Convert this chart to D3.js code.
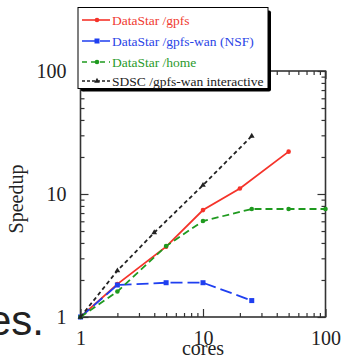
<!DOCTYPE html>
<html>
<head>
<meta charset="utf-8">
<script src="https://cdn.jsdelivr.net/npm/d3@7"></script>
<style>
  html, body { margin: 0; padding: 0; background: #fff; }
  svg { display: block; }
  text { font-family: "Liberation Serif", "DejaVu Serif", serif; }
</style>
</head>
<body>
<div id="chart"></div>
<script>
// series values (cores -> speedup)
const gpfsCores = [1, 2, 5, 10, 20, 50];
const gpfsSpeedup = [1, 1.85, 3.73, 7.4, 11.1, 22.1];

const wanCores = [1, 2, 5, 10, 25];
const wanSpeedup = [1, 1.82, 1.9, 1.9, 1.36];

const homeCores = [1, 2, 5, 10, 25, 50, 100];
const homeSpeedup = [1, 1.61, 3.77, 6.03, 7.55, 7.55, 7.55];

const sdscCores = [1, 2, 4, 10, 25];
const sdscSpeedup = [1, 2.38, 4.85, 11.8, 29.6];

const seriesNames = ['DataStar /gpfs', 'DataStar /gpfs-wan (NSF)', 'DataStar /home', 'SDSC /gpfs-wan interactive'];
const majorTicks = [1, 10, 100];
const minorTicks = [2, 3, 4, 5, 6, 7, 8, 9, 20, 30, 40, 50, 60, 70, 80, 90];

const width = 341, height = 358;
const plotLeft = 80.5, plotRight = 325.5, plotTop = 71, plotBottom = 317;

const svg = d3.select('#chart').append('svg')
  .attr('width', width)
  .attr('height', height);

const x = d3.scaleLog().domain([1, 100]).range([plotLeft, plotRight]);
const y = d3.scaleLog().domain([1, 100]).range([plotBottom, plotTop]);

// cropped text fragment from the page behind the chart
svg.append('text')
  .attr('x', 44).attr('y', 335)
  .attr('text-anchor', 'end')
  .style('font-family', '"Liberation Sans", Arial, sans-serif')
  .style('font-size', '42px')
  .attr('fill', '#222')
  .text('es.');

const axisColor = '#333';

function styleAxis(g) {
  g.select('.domain').remove();
  g.selectAll('.tick line').attr('stroke', axisColor).attr('stroke-width', 1.2);
  g.selectAll('text').style('font-size', '20px').attr('fill', '#222')
    .style('font-family', '"Liberation Serif", serif');
}

// bottom
svg.append('g').attr('transform', `translate(0,${plotBottom})`)
  .call(d3.axisBottom(x).tickValues(majorTicks).tickSize(-8).tickPadding(14).tickFormat(d3.format('d')))
  .call(styleAxis);
svg.append('g').attr('transform', `translate(0,${plotBottom})`)
  .call(d3.axisBottom(x).tickValues(minorTicks).tickSize(-4).tickFormat(''))
  .call(styleAxis);
// top
svg.append('g').attr('transform', `translate(0,${plotTop})`)
  .call(d3.axisTop(x).tickValues(majorTicks).tickSize(-8).tickFormat(''))
  .call(styleAxis);
svg.append('g').attr('transform', `translate(0,${plotTop})`)
  .call(d3.axisTop(x).tickValues(minorTicks).tickSize(-4).tickFormat(''))
  .call(styleAxis);
// left
svg.append('g').attr('transform', `translate(${plotLeft},0)`)
  .call(d3.axisLeft(y).tickValues(majorTicks).tickSize(-8).tickPadding(14).tickFormat(d3.format('d')))
  .call(styleAxis);
svg.append('g').attr('transform', `translate(${plotLeft},0)`)
  .call(d3.axisLeft(y).tickValues(minorTicks).tickSize(-4).tickFormat(''))
  .call(styleAxis);
// right
svg.append('g').attr('transform', `translate(${plotRight},0)`)
  .call(d3.axisRight(y).tickValues(majorTicks).tickSize(-8).tickFormat(''))
  .call(styleAxis);
svg.append('g').attr('transform', `translate(${plotRight},0)`)
  .call(d3.axisRight(y).tickValues(minorTicks).tickSize(-4).tickFormat(''))
  .call(styleAxis);

svg.append('rect')
  .attr('x', plotLeft).attr('y', plotTop)
  .attr('width', plotRight - plotLeft).attr('height', plotBottom - plotTop)
  .attr('fill', 'none').attr('stroke', axisColor).attr('stroke-width', 1.6);

// axis titles
svg.append('text')
  .attr('x', 203).attr('y', 355)
  .attr('text-anchor', 'middle')
  .style('font-size', '20px').attr('fill', '#222')
  .text('cores');
svg.append('text')
  .attr('transform', 'translate(23,199) rotate(-90)')
  .attr('text-anchor', 'middle')
  .style('font-size', '20px').attr('fill', '#222')
  .text('Speedup');

const series = [
  { name: seriesNames[0], xs: gpfsCores, ys: gpfsSpeedup, color: '#f5332a', dash: null, marker: 'circle', textColor: '#f03a30' },
  { name: seriesNames[1], xs: wanCores, ys: wanSpeedup, color: '#1f3ff0', dash: '12,5', marker: 'square', textColor: '#2a44e6' },
  { name: seriesNames[2], xs: homeCores, ys: homeSpeedup, color: '#1f9a1f', dash: '7,4', marker: 'circle', textColor: '#2a9a2a' },
  { name: seriesNames[3], xs: sdscCores, ys: sdscSpeedup, color: '#222', dash: '4,3', marker: 'triangle', textColor: '#222' }
];

const line = d3.line().x(d => x(d[0])).y(d => y(d[1]));

function drawMarker(g, s, cx, cy) {
  if (s.marker === 'square') {
    g.append('rect').attr('x', cx - 2.5).attr('y', cy - 2.5).attr('width', 5).attr('height', 5).attr('fill', s.color);
  } else if (s.marker === 'triangle') {
    g.append('path').attr('transform', `translate(${cx},${cy})`)
      .attr('d', d3.symbol(d3.symbolTriangle, 14)()).attr('fill', s.color);
  } else {
    g.append('circle').attr('cx', cx).attr('cy', cy).attr('r', 2.3).attr('fill', s.color);
  }
}

const plot = svg.append('g');
series.forEach(s => {
  const pts = s.xs.map((c, i) => [c, s.ys[i]]);
  plot.append('path')
    .datum(pts)
    .attr('d', line)
    .attr('fill', 'none')
    .attr('stroke', s.color)
    .attr('stroke-width', 1.8)
    .attr('stroke-dasharray', s.dash);
  pts.forEach(p => drawMarker(plot, s, x(p[0]), y(p[1])));
});

// legend with drop shadow
const lg = svg.append('g');
lg.append('rect').attr('x', 81).attr('y', 10.5).attr('width', 190).attr('height', 81)
  .attr('rx', 2).attr('fill', '#000');
lg.append('rect').attr('x', 78).attr('y', 7.5).attr('width', 190).attr('height', 81)
  .attr('fill', '#fff').attr('stroke', '#000').attr('stroke-width', 1);

const rowY = [20, 41, 62, 81];
const legendDash = [null, '14,4', '5,4', '3,2'];
series.forEach((s, i) => {
  const ry = rowY[i];
  lg.append('line')
    .attr('x1', 82).attr('x2', 110).attr('y1', ry).attr('y2', ry)
    .attr('stroke', s.color).attr('stroke-width', 1.6)
    .attr('stroke-dasharray', legendDash[i]);
  drawMarker(lg, s, 97, ry);
  lg.append('text')
    .attr('x', 112).attr('y', ry + 4.5)
    .style('font-size', '13.5px')
    .attr('fill', s.textColor)
    .text(s.name);
});
</script>
</body>
</html>
